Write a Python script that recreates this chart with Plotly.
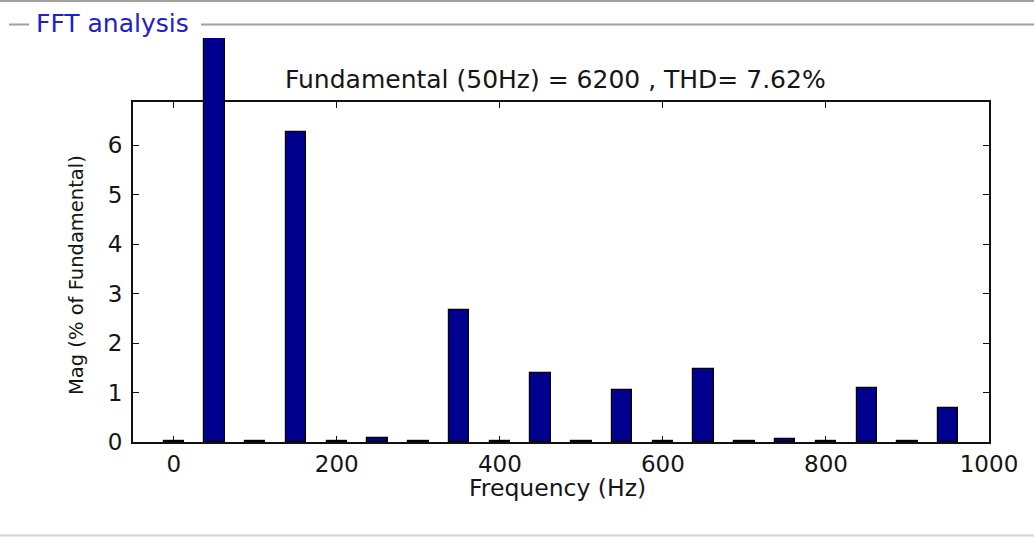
import plotly.graph_objects as go

# ---- data ----
freqs = [0, 50, 100, 150, 200, 250, 300, 350, 400, 450,
         500, 550, 600, 650, 700, 750, 800, 850, 900, 950]
mags = [0.03, 100, 0.03, 6.27, 0.03, 0.09, 0.03, 2.67, 0.03, 1.39,
        0.03, 1.05, 0.03, 1.48, 0.03, 0.06, 0.03, 1.09, 0.03, 0.69]
title_text = "Fundamental (50Hz) = 6200 , THD= 7.62%"
panel_title = "FFT analysis"
x_ticks = [0, 200, 400, 600, 800, 1000]
y_ticks = [0, 1, 2, 3, 4, 5, 6]
x_title = "Frequency (Hz)"
y_title = "Mag (% of Fundamental)"

# ---- geometry ----
W, H = 1034, 537
ML, MR, MT, MB = 133, 45, 38, 95
PW = W - ML - MR
PH = H - MT - MB
BOX_TOP = 102                      # pixel y of axes box top
y1_frac = (H - MB - BOX_TOP) / PH   # fraction of plot height used by main axes
y1_range = [0, 6.875]
y2_range = [0, y1_range[1] / y1_frac]


def px(x):
    return (x - ML) / PW


def py(y):
    return (H - MB - y) / PH


FONT = "DejaVu Sans, Arial, sans-serif"
TXT = "#151515"

fig = go.Figure()
fig.add_trace(go.Scatter(x=[], y=[], xaxis="x", yaxis="y", showlegend=False))
fig.add_trace(go.Bar(
    x=freqs, y=mags, xaxis="x", yaxis="y2", width=25,
    marker=dict(color="#00008F", line=dict(color="#000000", width=1.2)),
    showlegend=False, hoverinfo="x+y",
))

axis_common = dict(
    showline=True, linecolor="#111111", linewidth=1.8, mirror="ticks",
    ticks="inside", ticklen=6, tickwidth=1.3, tickcolor="#111111",
    showgrid=False, zeroline=False,
    tickfont=dict(family=FONT, size=23, color=TXT),
)

fig.update_layout(
    width=W, height=H,
    margin=dict(l=ML, r=MR, t=MT, b=MB, autoexpand=False),
    paper_bgcolor="white", plot_bgcolor="rgba(0,0,0,0)",
    bargap=0, barmode="overlay",
    xaxis=dict(range=[-50, 1000], domain=[0, 1], anchor="y",
               tickvals=x_ticks, ticktext=[str(v) for v in x_ticks],
               **axis_common),
    yaxis=dict(range=y1_range, domain=[0, y1_frac], anchor="x",
               tickvals=y_ticks, ticktext=[str(v) for v in y_ticks],
               ticklabelstandoff=4, **axis_common),
    yaxis2=dict(range=y2_range, domain=[0, 1], anchor="x", visible=False,
                showgrid=False, zeroline=False),
)

gray = "#a0a0a0"
shapes = [
    dict(type="line", xref="paper", yref="paper", x0=px(0), x1=px(W), y0=py(1), y1=py(1),
         line=dict(color=gray, width=2)),
    dict(type="line", xref="paper", yref="paper", x0=px(9), x1=px(29), y0=py(24.5), y1=py(24.5),
         line=dict(color=gray, width=2)),
    dict(type="line", xref="paper", yref="paper", x0=px(201), x1=px(W), y0=py(24.5), y1=py(24.5),
         line=dict(color=gray, width=2)),
    dict(type="line", xref="paper", yref="paper", x0=px(0), x1=px(W), y0=py(535.5), y1=py(535.5),
         line=dict(color="#d4d4d4", width=2)),
]
fig.update_layout(shapes=shapes)

annotations = [
    dict(text=panel_title, xref="paper", yref="paper", x=px(34), y=py(24),
         xanchor="left", yanchor="middle", showarrow=False,
         font=dict(family=FONT, size=25, color="#2020cc")),
    dict(text=title_text, xref="paper", yref="paper", x=px(555), y=py(79),
         xanchor="center", yanchor="middle", showarrow=False,
         font=dict(family=FONT, size=25, color=TXT)),
    dict(text=x_title, xref="paper", yref="paper", x=px(557), y=py(488),
         xanchor="center", yanchor="middle", showarrow=False,
         font=dict(family=FONT, size=23.5, color=TXT)),
    dict(text=y_title, xref="paper", yref="paper", x=px(76), y=py(275),
         xanchor="center", yanchor="middle", showarrow=False, textangle=-90,
         font=dict(family=FONT, size=19.5, color=TXT)),
]
fig.update_layout(annotations=annotations)

fig.write_html("out.html")
